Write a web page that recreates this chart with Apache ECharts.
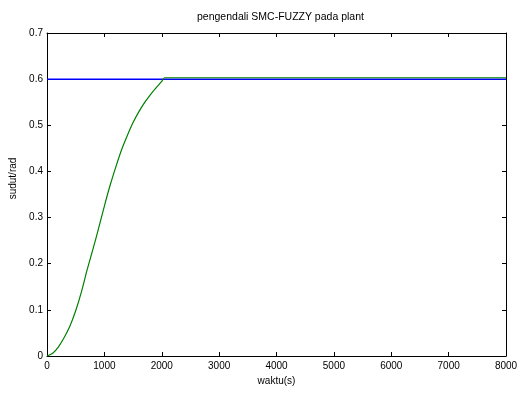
<!DOCTYPE html>
<html><head><meta charset="utf-8">
<script src="https://cdn.jsdelivr.net/npm/echarts@6/dist/echarts.min.js"></script>
<style>html,body{margin:0;padding:0;background:#fff}#c{width:523px;height:394px}</style>
</head><body><div id="c"></div>
<script>
const titleText = 'pengendali SMC-FUZZY pada plant';
const xName = 'waktu(s)';
const yName = 'sudut/rad';
const timeGreen = [0,100,200,300,400,500,600,700,800,900,1000,1100,1200,1300,1400,1500,1600,1700,1800,1900,2000,2050,8000];
const valGreen  = [0,0.006,0.020,0.040,0.065,0.098,0.139,0.187,0.231,0.277,0.325,0.370,0.410,0.447,0.478,0.506,0.529,0.549,0.566,0.581,0.595,0.603,0.603];
const timeBlue = [0,8000];
const valBlue  = [0.6,0.6];

const font = 'Liberation Sans, Arial, sans-serif';
const chart = echarts.init(document.getElementById('c'));
const axisCommon = {
  axisLine:{show:true,onZero:false,lineStyle:{color:'#000',width:1}},
  axisTick:{show:true,inside:true,length:4,lineStyle:{color:'#000'}},
  splitLine:{show:false}
};
chart.setOption({
  animation:false,
  title:{text:titleText,left:192,top:7,textStyle:{fontFamily:font,fontSize:10.5,fontWeight:'normal',color:'#000'}},
  grid:{left:47,right:17,top:33,bottom:38},
  xAxis:[
    Object.assign({type:'value',min:0,max:8000,interval:1000,position:'bottom',name:xName,nameLocation:'middle',nameGap:20,
      nameTextStyle:{fontFamily:font,fontSize:10,color:'#000'},
      axisLabel:{fontFamily:font,fontSize:10,color:'#000',margin:5,formatter:v=>String(v)}},axisCommon),
    Object.assign({type:'value',min:0,max:8000,interval:1000,position:'top',axisLabel:{show:false}},axisCommon)
  ],
  yAxis:[
    Object.assign({type:'value',min:0,max:0.7,interval:0.1,position:'left',name:yName,nameLocation:'middle',nameGap:26,
      nameTextStyle:{fontFamily:font,fontSize:10,color:'#000',padding:[0,0,0,32]},
      axisLabel:{fontFamily:font,fontSize:10,color:'#000',margin:4,formatter:v=>String(+v.toFixed(1))}},axisCommon),
    Object.assign({type:'value',min:0,max:0.7,interval:0.1,position:'right',axisLabel:{show:false}},axisCommon)
  ],
  series:[
    {type:'line',data:timeBlue.map((t,i)=>[t,valBlue[i]]),showSymbol:false,lineStyle:{color:'#0000ff',width:1.5},z:2},
    {type:'line',data:timeGreen.map((t,i)=>[t,valGreen[i]]),smooth:0.3,showSymbol:false,lineStyle:{color:'#008000',width:1.2},z:3}
  ]
});
</script></body></html>
